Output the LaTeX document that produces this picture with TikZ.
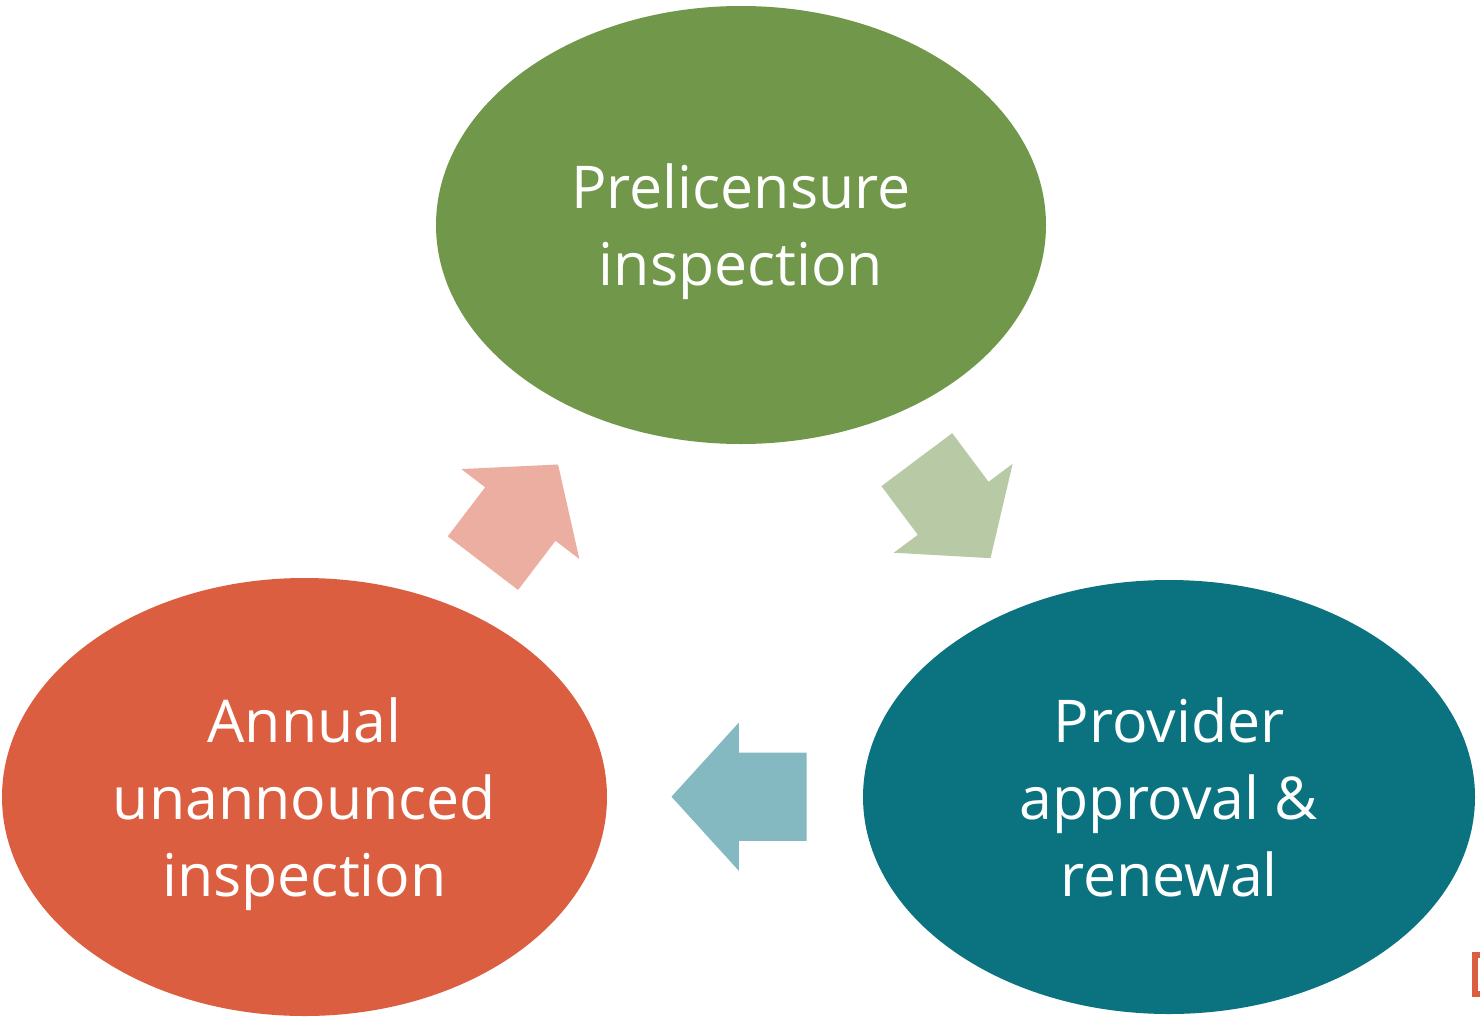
\documentclass[tikz,border=0pt]{standalone}
\usepackage{fontspec}
\setsansfont{Open Sans}
\usetikzlibrary{shapes.geometric,shapes.arrows}

\definecolor{preGreen}{RGB}{113,152,74}
\definecolor{provTeal}{RGB}{11,115,127}
\definecolor{annRed}{RGB}{219,94,64}
\definecolor{toProv}{RGB}{184,202,165}
\definecolor{toAnn}{RGB}{132,185,193}
\definecolor{toPre}{RGB}{236,174,160}

\tikzset{
    phase/.style={ellipse, minimum width=610pt, minimum height=438pt, inner sep=0pt,
        text=white, align=center, text depth=0pt, font=\sffamily\fontsize{59}{77}\selectfont},
    turn/.style={single arrow, draw=none, inner xsep=0pt, inner ysep=44pt, anchor=tail,
        single arrow head extend=30pt, single arrow tip angle=100}
}

\begin{document}
\begin{tikzpicture}[x=1pt,y=-1pt]
        \useasboundingbox (0,0) rectangle (1480,1017);
        \fill[white] (0,0) rectangle (1480,1017);

        \node [phase, fill=preGreen] (pre) at (741,225) {Prelicensure\\inspection};
        \node [phase, fill=provTeal, minimum width=612pt, minimum height=434pt] (prov) at (1169,797) {Provider\\approval \&\\renewal};
        \node [phase, fill=annRed, minimum width=605pt] (ann) at (304.5,797) {Annual\\unannounced\\inspection};

        \node [turn, fill=toProv, rotate=-53.2, minimum height=123pt] (pre2prov) at (916.7,459.5) {};
        \node [turn, fill=toAnn, rotate=180, minimum height=135pt, single arrow tip angle=95.5] (prov2ann) at (806.7,796.7) {};
        \node [turn, fill=toPre, rotate=52.7, minimum height=124pt] (ann2pre) at (482.8,563.3) {};

    \draw[annRed, line width=6pt]
        (1490,954.5) -- (1475,954.5) -- (1475,993.5) -- (1490,993.5);
    \end{tikzpicture}
\end{document}
